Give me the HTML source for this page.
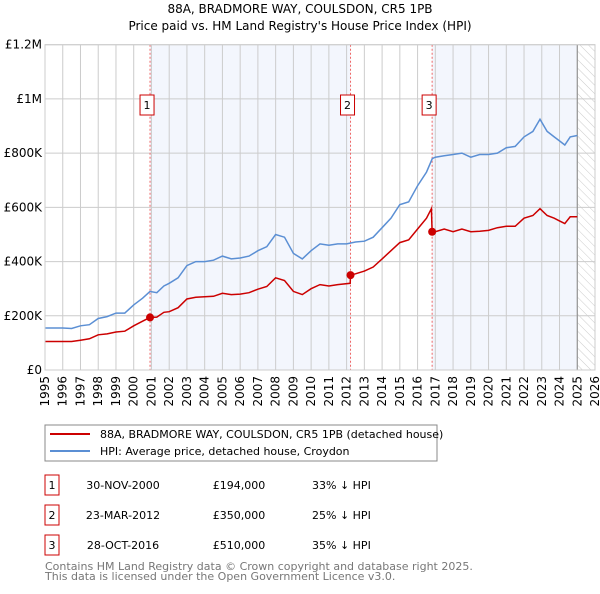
<!DOCTYPE html>
<html><head><meta charset="utf-8"><style>
body{margin:0;background:#fff;font-family:"DejaVu Sans","Liberation Sans",sans-serif;}
svg text{font-family:"DejaVu Sans","Liberation Sans",sans-serif;}
</style></head><body>
<svg id="c" width="600" height="590" xmlns="http://www.w3.org/2000/svg">
<defs><pattern id="hatch" width="6" height="6" patternUnits="userSpaceOnUse" patternTransform="rotate(-45)"><line x1="0" y1="0" x2="0" y2="6" stroke="#ccc" stroke-width="1"/></pattern></defs>
<text x="300" y="13" text-anchor="middle" font-size="12">88A, BRADMORE WAY, COULSDON, CR5 1PB</text>
<text x="300" y="30" text-anchor="middle" font-size="12">Price paid vs. HM Land Registry's House Price Index (HPI)</text>
<g id="plot"></g>
<rect x="45" y="425" width="392" height="36" fill="#fff" stroke="#888"/>
<line x1="50" y1="434" x2="90" y2="434" stroke="#cc0000" stroke-width="2"/>
<text x="100" y="438" font-size="11">88A, BRADMORE WAY, COULSDON, CR5 1PB (detached house)</text>
<line x1="50" y1="451" x2="90" y2="451" stroke="#5b8fd4" stroke-width="2"/>
<text x="100" y="455" font-size="11">HPI: Average price, detached house, Croydon</text>
<g id="table" font-size="11"></g>
<text x="45" y="570" font-size="11" fill="#777">Contains HM Land Registry data © Crown copyright and database right 2025.</text>
<text x="45" y="580" font-size="11" fill="#777">This data is licensed under the Open Government Licence v3.0.</text>
</svg>
<script>
const hpiYears=[1995,1995.5,1996,1996.5,1997,1997.5,1998,1998.5,1999,1999.5,2000,2000.5,2000.92,2001.3,2001.7,2002,2002.5,2003,2003.5,2004,2004.5,2005,2005.5,2006,2006.5,2007,2007.5,2008,2008.5,2009,2009.5,2010,2010.5,2011,2011.5,2012,2012.5,2013,2013.5,2014,2014.5,2015,2015.5,2016,2016.5,2016.83,2017,2017.5,2018,2018.5,2019,2019.5,2020,2020.5,2021,2021.5,2022,2022.5,2022.9,2023.3,2023.7,2024,2024.3,2024.6,2025];
const hpiValues=[155,155,155,153,163,167,190,197,210,210,240,265,290,285,310,320,340,385,400,400,405,420,410,413,420,440,455,500,490,430,410,440,465,460,465,465,472,475,490,525,560,610,620,680,730,780,785,790,795,800,785,795,795,800,820,825,860,880,925,880,860,845,830,860,865];
const ppYears=[1995,1996,1996.5,1997,1997.5,1998,1998.5,1999,1999.5,2000,2000.5,2000.92,2001.3,2001.7,2002,2002.5,2003,2003.5,2004,2004.5,2005,2005.5,2006,2006.5,2007,2007.5,2008,2008.5,2009,2009.5,2010,2010.5,2011,2011.5,2012.2,2012.22,2012.5,2013,2013.5,2014,2014.5,2015,2015.5,2016,2016.5,2016.78,2016.82,2017,2017.5,2018,2018.5,2019,2019.5,2020,2020.5,2021,2021.5,2022,2022.5,2022.9,2023.3,2023.7,2024,2024.3,2024.6,2025];
const ppValues=[105,105,105,110,115,130,133,140,143,163,180,194,195,213,215,230,262,268,270,272,283,278,280,285,298,308,340,330,290,278,300,315,310,315,320,350,355,365,380,410,440,470,480,520,560,595,510,510,520,510,520,510,512,515,525,530,530,560,570,595,570,560,550,540,565,565];
const saleYears=[2000.92,2012.22,2016.82];
const saleValues=[194,350,510];
const saleLabels=["1","2","3"];
const saleDates=["30-NOV-2000","23-MAR-2012","28-OCT-2016"];
const salePrices=["£194,000","£350,000","£510,000"];
const saleDiffs=["33% ↓ HPI","25% ↓ HPI","35% ↓ HPI"];
const yTicks=[0,200,400,600,800,1000,1200];
const yTickLabels=["£0","£200K","£400K","£600K","£800K","£1M","£1.2M"];
const xTicks=[1995,1996,1997,1998,1999,2000,2001,2002,2003,2004,2005,2006,2007,2008,2009,2010,2011,2012,2013,2014,2015,2016,2017,2018,2019,2020,2021,2022,2023,2024,2025,2026];
const dataEnd=2025.0;

const NS="http://www.w3.org/2000/svg";
const X0=45,X1=595,Y0=370,Y1=44.7;
const x=v=>X0+(v-1995)/(2026-1995)*(X1-X0);
const y=v=>Y0-v/1200*(Y0-Y1);
const plot=document.getElementById('plot');
function mk(tag,attrs,parent){const e=document.createElementNS(NS,tag);for(const k in attrs)e.setAttribute(k,attrs[k]);(parent||plot).appendChild(e);return e;}

let b=mk('rect',{x:x(saleYears[0]),y:Y1,width:x(saleYears[1])-x(saleYears[0]),height:Y0-Y1,fill:'#f3f6fd'});


b=mk('rect',{x:x(saleYears[2]),y:Y1,width:x(dataEnd)-x(saleYears[2]),height:Y0-Y1,fill:'#f3f6fd'});


b=mk('rect',{x:x(dataEnd),y:Y1,width:X1-x(dataEnd),height:Y0-Y1,fill:'url(#hatch)'});



xTicks.forEach(t=>{
  const l=mk('line',{x1:x(t),x2:x(t),y1:Y1,y2:Y0,stroke:'#ccc','stroke-width':1});
  
  
  const tx=mk('text',{x:0,y:0,'font-size':12,'text-anchor':'end',transform:`translate(${x(t)+4},${Y0+6}) rotate(-90)`});
  tx.textContent=t;
  
  
});
yTicks.forEach((t,i)=>{
  const l=mk('line',{x1:X0,x2:X1,y1:y(t),y2:y(t),stroke:'#ccc','stroke-width':1});
  
  
  const tx=mk('text',{x:X0-3,y:y(t)+4,'font-size':12,'text-anchor':'end'});
  tx.textContent=yTickLabels[i];
  
  
});
let el=mk('line',{x1:x(dataEnd),x2:x(dataEnd),y1:Y1,y2:Y0,stroke:'#888','stroke-width':1});



saleYears.forEach((s,i)=>{
  const l=mk('line',{x1:x(s),x2:x(s),y1:Y1,y2:Y0,stroke:'#ee6666','stroke-width':1,'stroke-dasharray':'2,2'});
  
  
});

function path(xs,vs){return xs.map((t,i)=>(i?'L':'M')+x(t).toFixed(1)+','+y(vs[i]).toFixed(1)).join('');}
el=mk('path',{d:path(hpiYears,hpiValues),fill:'none',stroke:'#5b8fd4','stroke-width':1.5});


el=mk('path',{d:path(ppYears,ppValues),fill:'none',stroke:'#cc0000','stroke-width':1.5});



saleYears.forEach((s,i)=>{
  const c=mk('circle',{cx:x(s),cy:y(saleValues[i]),r:4,fill:'#cc0000'});
  
  
  const r=mk('rect',{x:x(s)-10,y:95,width:14,height:20,fill:'#fff',stroke:'#cc0000'});
  
  
  const t=mk('text',{x:x(s)-3,y:109,'font-size':11,'text-anchor':'middle'});
  t.textContent=saleLabels[i];
  
  
});

el=mk('rect',{x:X0,y:Y1,width:X1-X0,height:Y0-Y1,fill:'none',stroke:'#ccc'});



const tb=document.getElementById('table');
saleLabels.forEach((lab,i)=>{
  const cy=487+i*30;
  const r=mk('rect',{x:45,y:cy-12,width:14,height:20,fill:'none',stroke:'#cc0000'},tb);
  
  
  const cells=[[52,lab,'middle'],[123,saleDates[i],'middle'],[239,salePrices[i],'middle'],[312,saleDiffs[i],'start']];
  cells.forEach((c,j)=>{
    const t=mk('text',{x:c[0],y:cy+2,'text-anchor':c[2]},tb);
    t.textContent=c[1];
    
    
  });
});
</script>
</body></html>
